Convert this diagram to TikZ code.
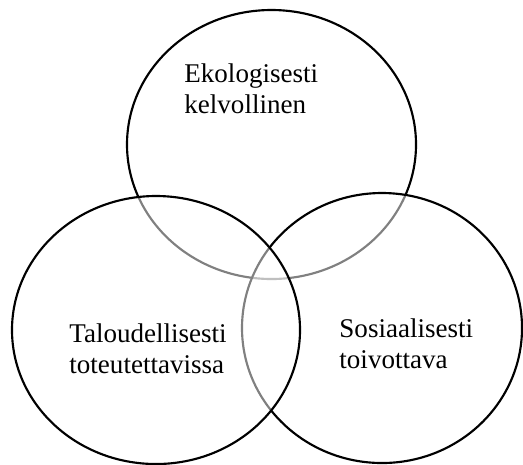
\documentclass[tikz,border=0pt]{standalone}
\usepackage{fontspec}
\setmainfont{Liberation Serif}
\usetikzlibrary{positioning}

\begin{document}
\begin{tikzpicture}[x=0.444pt, y=-0.444pt,
		ring/.style={line width=0.95pt, fill=white, fill opacity=0.5},
		label/.style={anchor=north west, inner sep=0pt, align=left, font=\fontsize{12pt}{14pt}\selectfont}]
			\useasboundingbox (0,0) rectangle (523,464);
			% ympyrat: ylin ensin, sitten oikea ja vasen paalle
			\draw[ring] (271.5,144.5) ellipse [x radius=144.5, y radius=134.5];
			\draw[ring] (382,328) ellipse [x radius=140, y radius=135];
			\draw[ring] (156,330) ellipse [x radius=144, y radius=134];
			
			\node[label] (eko) at (184,63) {Ekologisesti\\kelvollinen};
			\node[label] (talous) at (69,323) {Taloudellisesti\\toteutettavissa};
			\node[label] (sosiaali) at (339,318) {Sosiaalisesti\\toivottava};
		\end{tikzpicture}
\end{document}
